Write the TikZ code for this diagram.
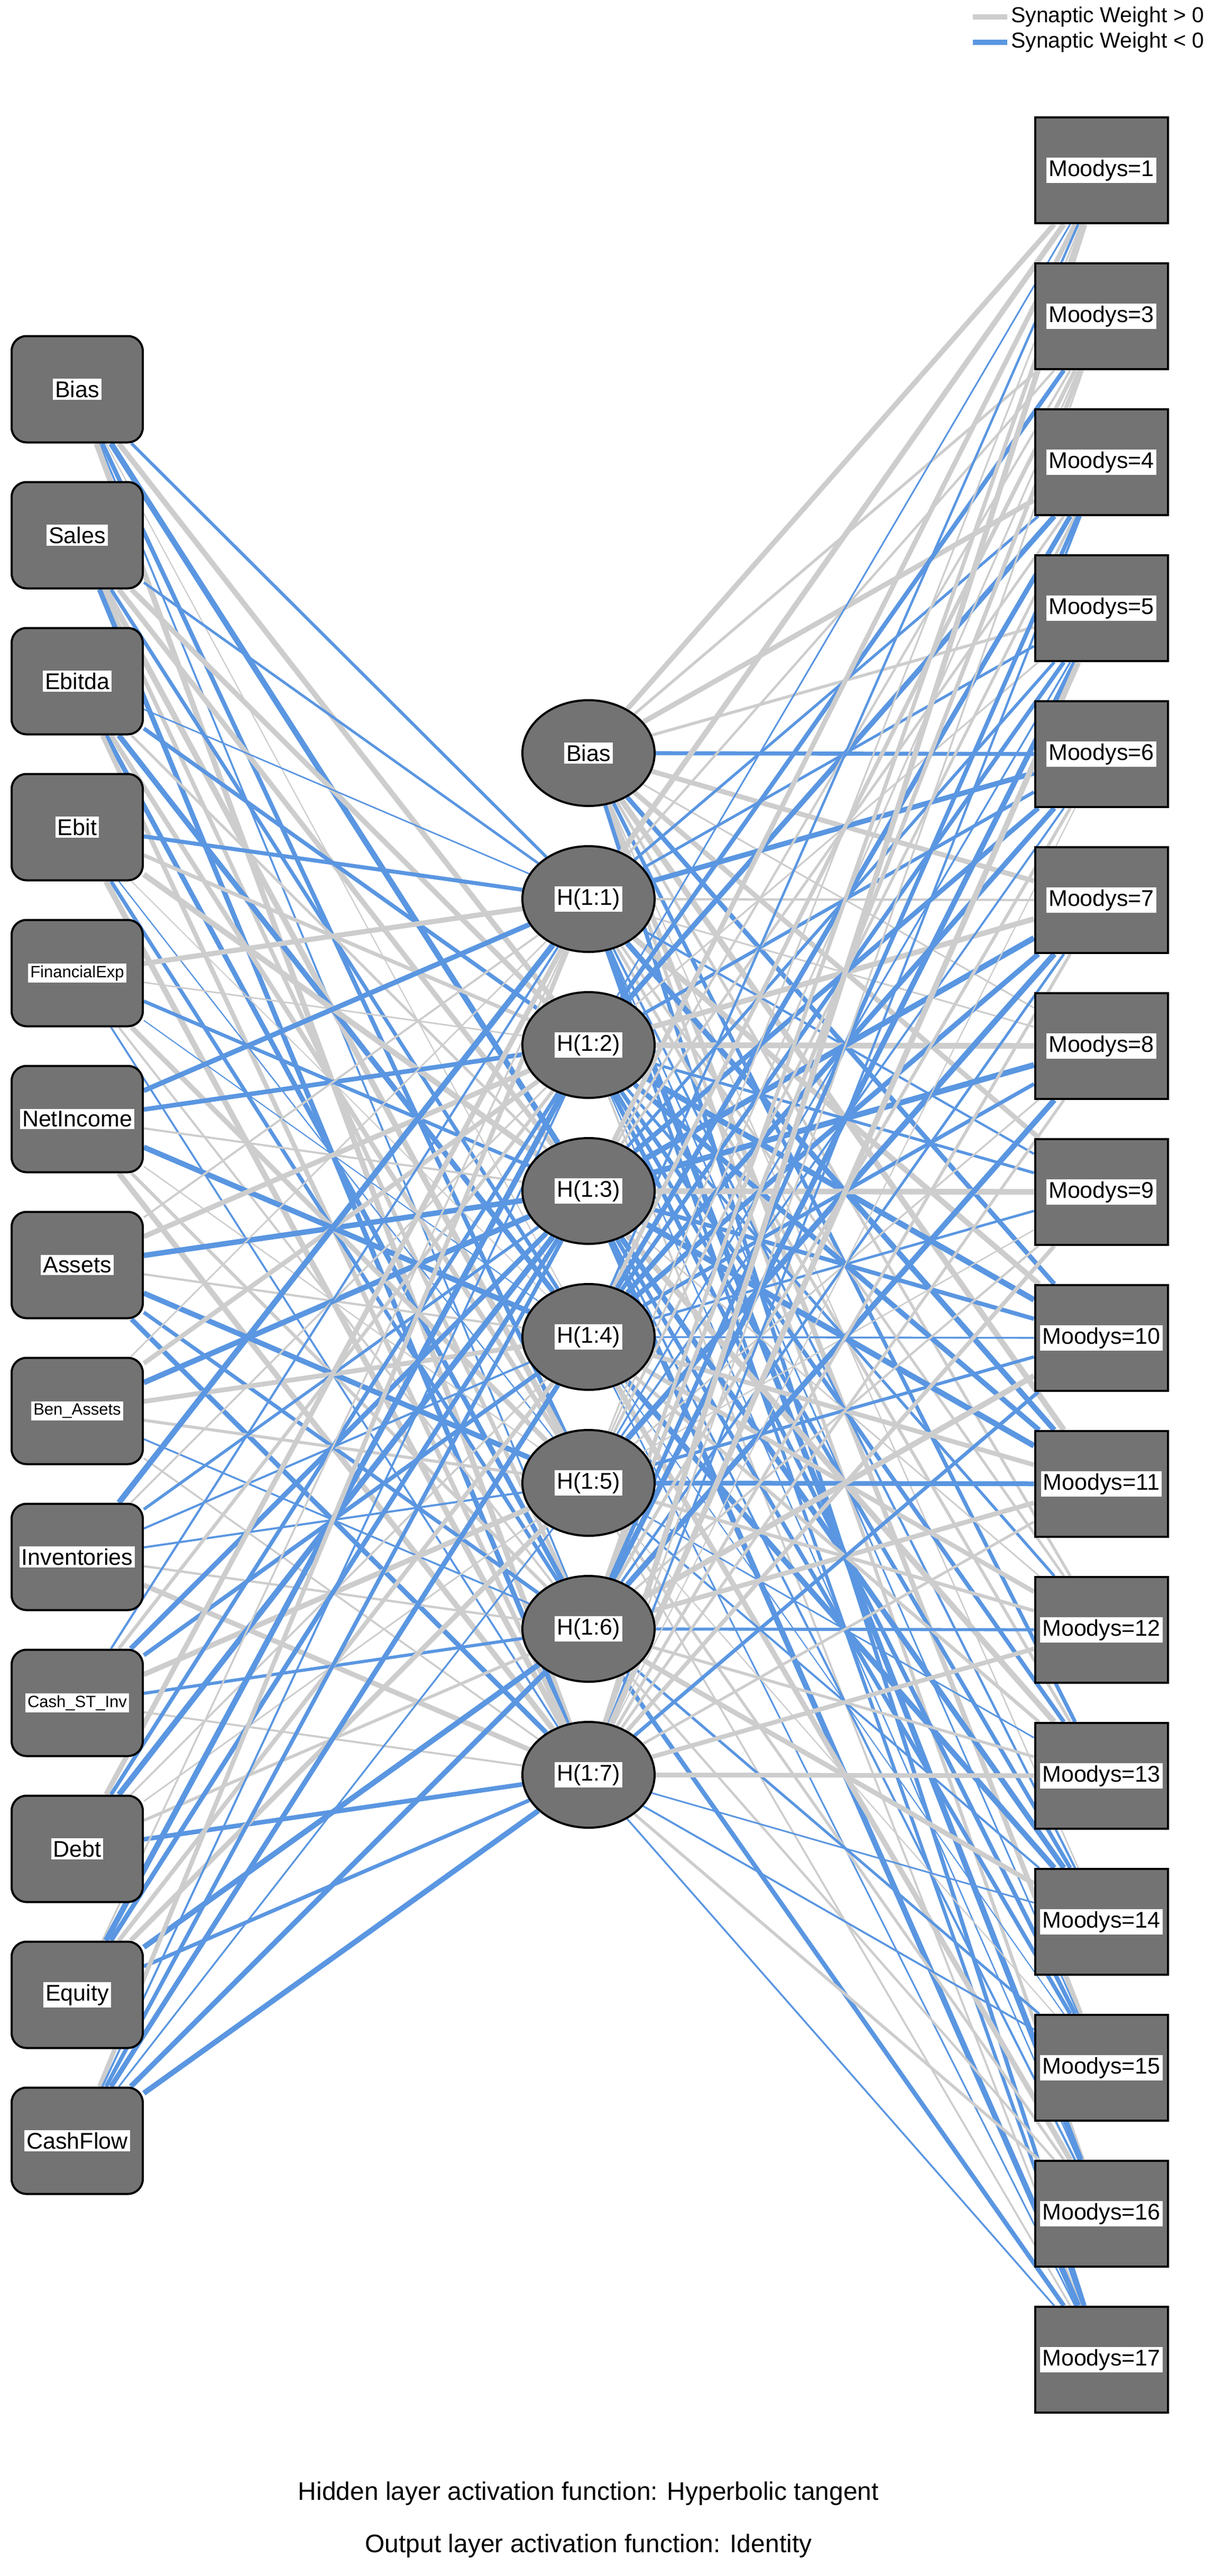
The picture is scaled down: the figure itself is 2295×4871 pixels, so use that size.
\documentclass[tikz,border=0pt]{standalone}
\usepackage{fontspec}
\setmainfont{Liberation Sans}
\usetikzlibrary{shapes.geometric}
\pgfdeclarelayer{bg}
\pgfsetlayers{bg,main}
\definecolor{nodegray}{RGB}{115,115,115}
\definecolor{posc}{RGB}{205,205,205}
\definecolor{negc}{RGB}{90,150,225}
\newcommand\lbl[1]{{\setlength\fboxsep{4pt}\colorbox{white}{#1}}}
\newcommand\sm{\fontsize{31}{36}\selectfont}
\begin{document}
\begin{tikzpicture}[x=1pt,y=-1pt,
  every node/.style={font=\fontsize{43}{48}\selectfont},
  inp/.style={draw=black,line width=4pt,fill=nodegray,rounded corners=28pt,minimum width=248pt,minimum height=201pt,inner sep=0pt},
  hid/.style={ellipse,draw=black,line width=4pt,fill=nodegray,minimum width=250pt,minimum height=200pt,inner sep=0pt},
  outn/.style={draw=black,line width=4pt,fill=nodegray,minimum width=251pt,minimum height=200pt,inner sep=0pt},
  txt/.style={font=\fontsize{48}{54}\selectfont,inner sep=0pt}]
\useasboundingbox (0,0) rectangle (2295,4871);
\foreach \t [count=\k from 0] in {Bias,Sales,Ebitda,Ebit,{\sm FinancialExp},NetIncome,Assets,{\sm Ben\_Assets},Inventories,{\sm Cash\_ST\_Inv},Debt,Equity,CashFlow}
  \node[inp] (i\k) at (146,736+276*\k) {\lbl{\t}};
\node[hid] (h0) at (1113,1424) {\lbl{Bias}};
\foreach \k in {1,...,7}
  \node[hid] (h\k) at (1113,1424+276*\k) {\lbl{H(1:\k)}};
\foreach \t [count=\k from 0] in {1,3,4,5,6,7,8,9,10,11,12,13,14,15,16,17}
  \node[outn] (o\k) at (2083,322+276*\k) {\lbl{Moodys=\t}};
\begin{pgfonlayer}{bg}
\pgfmathsetseed{12}
\foreach \a in {0,...,12}{
  \foreach \b in {1,...,7}{
    \pgfmathtruncatemacro\s{rnd<0.45}
    \pgfmathsetmacro\w{2+9*rnd}
    \ifnum\s=1 \def\c{negc}\else\def\c{posc}\fi
    \draw[line width=\w pt,draw=\c] (i\a) -- (h\b);
  }}
\foreach \a in {0,...,7}{
  \foreach \b in {0,...,15}{
    \pgfmathtruncatemacro\s{rnd<0.5}
    \pgfmathsetmacro\w{2+9*rnd}
    \ifnum\s=1 \def\c{negc}\else\def\c{posc}\fi
    \draw[line width=\w pt,draw=\c] (h\a) -- (o\b);
  }}
\end{pgfonlayer}
\draw[posc,line width=10pt] (1840,32) -- (1905,32);
\draw[negc,line width=10pt] (1840,80) -- (1905,80);
\node[txt,anchor=west,font=\fontsize{41}{46}\selectfont] (lg1) at (1912,32) {Synaptic Weight > 0};
\node[txt,anchor=west,font=\fontsize{41}{46}\selectfont] (lg2) at (1912,80) {Synaptic Weight < 0};
\node[txt] (f1) at (1113,4715) {Hidden layer activation function: Hyperbolic tangent};
\node[txt] (f2) at (1113,4814) {Output layer activation function: Identity};
\end{tikzpicture}
\end{document}
